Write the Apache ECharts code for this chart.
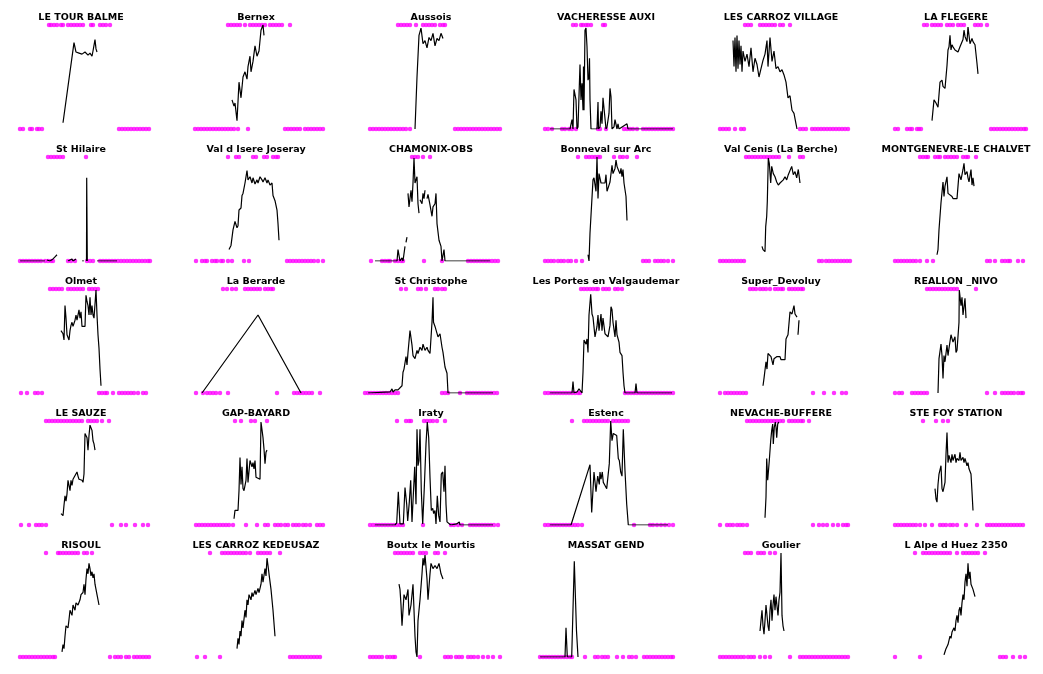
<!DOCTYPE html>
<html>
<head>
<meta charset="utf-8">
<script src="https://cdn.jsdelivr.net/npm/echarts@6/dist/echarts.min.js"></script>
<style>
  html, body { margin: 0; background: #fff; }
  #chart { width: 1043px; height: 674px; }
</style>
</head>
<body>
<div id="chart"></div>
<script>
// station names, in reading order (6 per row)
const names = [
  "LE TOUR BALME", "Bernex", "Aussois", "VACHERESSE AUXI", "LES CARROZ VILLAGE", "LA FLEGERE",
  "St Hilaire", "Val d Isere Joseray", "CHAMONIX-OBS", "Bonneval sur Arc", "Val Cenis (La Berche)", "MONTGENEVRE-LE CHALVET",
  "Olmet", "La Berarde", "St Christophe", "Les Portes en Valgaudemar", "Super_Devoluy", "REALLON _NIVO",
  "LE SAUZE", "GAP-BAYARD", "Iraty", "Estenc", "NEVACHE-BUFFERE", "STE FOY STATION",
  "RISOUL", "LES CARROZ KEDEUSAZ", "Boutx le Mourtis", "MASSAT GEND", "Goulier", "L Alpe d Huez 2350"
];

// days flagged at the top of each panel
const topDays = [
  [31,33,36,39,43,45,50,53,56,59,62,65,73,75,82,85,88,92],
  [35,38,41,44,47,52,57,60,63,66,69,72,77,80,83,86,89,97],
  [30,33,36,39,42,48,55,58,61,64,67,72,75,77],
  [30,33,38,40,43,45,48,60,62],
  [27,30,33,42,45,48,51,54,57,62,65,72],
  [31,34,39,42,45,48,54,57,60,65,68,71,82,85,88,94],
  [30,33,36,39,42,45,68],
  [35,43,46,60,63,71,74,80,83,85],
  [44,47,50,55,62],
  [35,43,46,49,52,55,57,71,77,80,84,94],
  [28,31,34,37,40,43,46,49,52,55,58,61,71,82,85],
  [27,30,33,35,42,45,47,52,55,58,61,64,70,73,75,83],
  [32,35,38,41,44,50,53,56,59,62,65,71,74,77,80],
  [30,34,39,43,52,55,58,61,64,67,72,75,78,80],
  [33,38,50,53,58,67,70,74,77],
  [38,41,44,47,50,53,55,60,63,66,72,75,79],
  [32,35,38,42,45,48,52,57,60,63,65,71,74,77,80,83,85],
  [34,37,40,43,46,49,52,55,58,61,64,83],
  [28,31,34,37,40,43,46,49,52,55,58,61,64,70,73,76,79,84,91],
  [42,48,58,62,74],
  [29,38,41,43,56,59,62,65,69,77],
  [29,41,44,47,50,53,56,59,62,65,70,73,76,79,82,85],
  [29,32,35,38,41,44,47,50,53,56,59,62,65,71,74,77,80,83,85,91],
  [30,43,50,55],
  [28,40,42,45,48,51,54,57,60,66,69,74],
  [17,29,32,35,38,41,44,47,50,53,57,65,68,71,74,77,87],
  [27,30,33,36,39,42,45,52,55,58,67,70,77],
  [],
  [27,30,33,40,43,46,52,57],
  [22,30,33,36,39,42,45,48,51,54,57,64,70,73,76,79,82,85,92]
];

// days flagged at the bottom of each panel
const bottomDays = [
  [2,5,12,14,19,21,24,101,104,107,110,113,116,119,122,125,128,131],
  [2,5,8,11,14,17,20,23,26,29,32,35,38,41,45,55,92,95,98,101,104,107,112,115,118,121,124,127,130],
  [2,5,8,11,14,17,20,23,26,29,32,35,38,42,87,90,93,96,99,102,105,108,111,114,117,120,123,126,129,132],
  [2,5,9,19,22,26,29,33,55,57,63,81,84,87,90,94,100,103,106,109,112,115,118,121,124,127,130],
  [2,5,8,11,17,23,26,82,85,88,94,97,100,103,106,109,112,115,118,121,124,127,130],
  [2,5,14,17,19,24,26,28,98,101,104,107,110,113,116,119,122,125,128,131,133],
  [2,5,8,11,14,17,20,23,27,30,33,35,50,53,57,69,72,75,82,85,88,91,94,97,100,103,106,109,112,115,118,121,124,127,130,132],
  [3,9,12,14,19,22,24,28,30,35,39,51,56,94,97,100,103,106,109,112,115,118,121,125,130],
  [3,14,17,20,22,27,30,33,35,56,74,100,103,106,109,112,115,118,121,124,127,130],
  [2,5,8,11,15,18,21,25,28,33,39,100,103,106,112,115,118,121,125,130],
  [2,5,8,11,14,17,20,23,26,101,104,108,111,114,117,120,123,126,129,132],
  [2,5,8,11,14,17,20,23,27,34,40,94,97,102,109,112,115,117,125,130],
  [3,9,17,20,24,81,84,87,89,95,101,104,107,110,113,116,120,125,128],
  [3,10,14,17,20,23,27,35,84,101,104,107,110,113,116,119,127],
  [-3,0,3,6,9,12,15,18,21,24,27,30,74,77,80,92,99,102,105,108,111,114,117,120,123,126,129],
  [2,5,8,11,14,17,20,23,26,29,32,35,37,82,85,88,91,94,97,100,103,106,109,112,115,118,121,124,127,130],
  [2,7,10,13,16,19,22,25,28,95,106,116,124,128],
  [2,6,9,19,22,25,28,31,34,94,102,109,112,115,118,121,125,128,130],
  [3,11,18,21,24,28,94,103,108,117,125,130],
  [3,6,9,12,15,18,21,24,27,30,33,36,40,53,64,72,75,82,85,88,92,95,100,103,106,110,113,117,124,127,130],
  [2,5,8,11,14,17,20,23,26,29,32,35,55,83,86,90,94,102,105,108,111,114,117,120,123,126,130],
  [2,5,8,11,14,17,20,23,26,29,32,35,39,91,107,110,114,118,122,126,130],
  [2,9,12,15,19,22,25,29,95,101,105,109,115,120,125,128,130],
  [2,5,8,11,14,17,20,23,27,32,39,47,50,53,57,60,64,73,84,94,97,100,103,106,109,112,115,118,121,124,127,130],
  [2,5,8,11,14,17,20,23,26,29,32,35,37,92,97,100,103,108,111,116,119,122,125,128,131],
  [4,12,27,97,100,103,106,109,112,115,118,121,124,127],
  [2,5,8,11,14,19,22,25,27,52,77,80,83,88,91,94,100,103,106,110,115,120,125,132],
  [-3,0,3,6,9,12,15,18,21,24,27,29,42,52,55,59,62,65,74,80,86,89,93,101,104,107,110,113,116,119,122,125,128,130],
  [2,5,8,11,14,17,20,23,26,30,33,36,42,47,52,72,82,85,88,91,94,97,100,103,106,109,112,115,118,121,124,127,130],
  [2,27,107,110,113,120,127,132]
];

// snow depth readings [day, depth]; null marks a gap in the record
const depth = [
  [[45,6],[56,83],[58,74],[61,73],[64,72],[67,74],[70,71],[72,73],[74,70],[75,75],[76,76],[77,86],[78,77],[79,74]],
  [[39,28],[41,22],[42,25],[44,8],[46,45],[48,30],[50,50],[52,55],[54,48],[55,60],[57,70],[58,55],[60,65],[62,80],[64,70],[66,75],[68,95],[70,100],[71,90]],
  [[47,0],[49,50],[51,90],[53,97],[55,82],[57,85],[59,78],[61,88],[63,85],[65,92],[67,80],[69,87],[71,85],[73,92],[75,87]],
  [[7,0],[27,0],[29,9],[30,0],[31,38],[33,28],[34,0],[35,2],[37,62],[38,28],[39,44],[40,18],[40.5,60],[41,18],[42,95],[43,97],[44,79],[45,47],[46,50],[46.5,68],[47,28],[48,0],[54,0],[55,26],[55.5,0],[57,2],[58,17],[59,5],[60,30],[62,31],[63,0],[64,2],[66,15],[67,39],[68,31],[69,0],[71,2],[72,9],[74,0],[75,5],[76,0],[84,5],[85,0],[130,0]],
  [[15,85],[16,60],[17,88],[18,55],[19,90],[20,58],[21,85],[22,62],[23,80],[24,55],[25,75],[27,65],[29,72],[31,60],[33,78],[35,55],[37,68],[39,62],[41,50],[43,58],[45,66],[47,72],[49,85],[50,60],[52,88],[54,65],[56,75],[58,58],[60,60],[62,55],[64,57],[66,52],[68,45],[70,30],[72,32],[74,18],[76,15],[78,5],[79,0]],
  [[39,8],[41,28],[43,25],[45,21],[47,45],[49,47],[50,41],[52,39],[54,61],[55,76],[56,79],[57,90],[58,76],[59,81],[60,79],[62,76],[64,77],[65,74],[67,79],[70,86],[71,95],[72,89],[74,84],[75,98],[77,82],[79,87],[80,84],[82,81],[84,63],[85,53]],
  [[2,0],[27,0],null,[29,1],[32,0],[35,2],[37,4],[39,6],null,[50,0],[54,2],[55,0],[58,2],null,[64,0],[66,0],null,[68.5,0],[68.7,80],[69.3,0],null,[79,0],[99,0]],
  [[36,11],[38,15],[39,14],[40,30],[42,38],[44,32],[45,34],[46,49],[48,51],[49,63],[50,65],[52,75],[54,87],[55,78],[57,81],[59,75],[60,80],[62,74],[64,78],[65,75],[67,81],[69,78],[70,76],[72,80],[74,75],[75,78],[77,73],[79,75],[80,63],[82,58],[84,49],[85,36],[86,20]],
  [[7,0],[29,0],[30,11],[32,0],[34,3],[35,0],[37,14],null,[38,18],[39,23],null,[40,65],[41,52],[43,68],[44,57],[45,75],[46,99],[47,75],[49,81],[50,55],[51,46],null,[52,59],[54,55],[55,65],[56,60],[57,68],null,[59,60],[60,64],[62,54],[64,43],[65,52],[67,55],[68,65],[69,36],[71,20],[73,14],[74,0],[75,0],[76,11],[77,0],[122,0]],
  [[45,6],[46,0],[47,27],[49,28],[50,78],[51,80],[52,81],[53,67],[54,100],[55,60],[56,84],[58,75],[59,75],[60,76],[62,75],[63,83],[64,67],[66,73],[67,76],[69,92],[70,84],[72,89],[73,97],[74,91],[76,86],[77,84],[78,89],[79,81],[80,88],[81,75],[83,62],[84,39]],
  [[44,14],[45,11],[47,9],[47.7,33],[48.7,43],[49.3,57],[50.3,99],[51.3,94],[52.7,75],[53.7,91],[55.3,84],[57,81],[58.7,76],[60.3,73],[62,75],[63.7,76],[65.3,78],[67,81],[68.7,78],[70.3,83],[72,84],[73.7,91],[75.3,83],[77,86],[78.7,80],[80.3,88],[82,75]],
  [[44,6],[45,11],[46,30],[48,56],[50,76],[51,62],[52,72],[54,81],[55,65],[57,64],[59,62],[60,60],[62,60],[64,60],[66,84],[68,78],[70,88],[71,94],[72,83],[74,86],[75,80],[76,76],[78,88],[79,73],[80,80],[81,72]],
  [[43,60],[45,57],[46,51],[47,84],[48,72],[49,56],[51,51],[52,60],[53,65],[54,68],[55,64],[57,70],[58,75],[59,70],[61,80],[62,72],[63,78],[64,64],[67,64],[68,94],[69,88],[70,84],[71,75],[72,92],[73,75],[74,84],[75,75],[76,72],[78,99],[79,75],[80,56],[81,43],[82,23],[83,7]],
  [[9,0],[65,75],[108,0]],
  [[0,0],[22,1],[24,4],[25,1],[27,3],[30,3],[32,4],[34,7],[35,20],[36,23],[38,35],[39,27],[40,39],[42,60],[44,46],[45,36],[47,33],[49,41],[50,38],[52,44],[54,41],[55,47],[57,41],[59,44],[60,41],[62,38],[64,68],[65,92],[65.5,68],[67,64],[69,65],[70,54],[72,57],[74,44],[75,39],[77,25],[79,19],[80,0],[125,0]],
  [[7,0],[29,0],[30,11],[31,0],[34,1],[36,4],[39,0],[40,20],[41,51],[43,47],[44,52],[45,39],[46,75],[47.7,95],[49,76],[50,73],[52,54],[54,64],[55,75],[56,60],[57,68],[58,76],[59,60],[60,72],[62,57],[64,56],[65,54],[67,65],[68,83],[69,80],[70,68],[72,54],[73,70],[74,56],[76,49],[77,39],[79,36],[80,20],[81,7],[82,0],[92,0],[93,9],[94,0],[129,0]],
  [[45,7],[46,14],[48,30],[49,23],[50,38],[51,39],[53,35],[54,36],[55,27],[56,33],[58,32],[59,35],[61,36],[62,35],[63,32],[67,32],[68,52],[69,54],[70,56],[72,78],[74,76],[75,75],[76,84],[77,76],[79,73],null,[80,56],[81,70]],
  [[45,0],[46,33],[48,47],[49,36],[50,14],[51,36],[52,30],[54,46],[55,36],[56,43],[58,56],[59,57],[60,49],[62,54],[63,39],[64,41],[66,68],[66.3,99],[68,84],[69,92],[70,75],[72,91],[73,72]],
  [[43,11],[45,9],[46,19],[47,28],[48,23],[49,30],[50,43],[52,33],[53,43],[54,38],[55,44],[57,43],[59,51],[60,47],[61,44],[64,43],[65,41],[66,49],[67,88],[69,84],[70,72],[71,86],[72,96],[74,91],[75,81],[76,78],[77,72]],
  [[41,6],[42,14],[44,13],[45,14],[46,33],[47,65],[48,39],[49,56],[50,35],[51,33],[53,43],[54,64],[55,41],[57,62],[59,56],[60,60],[61,54],[62,62],[63,46],[67,44],[68,99],[70,84],[71,73],[72,59],[73,70],[74,72]],
  [[7,0],[27,0],[28.7,2],[30.3,32],[32,1],[35.3,1],[37,36],[38.7,20],[39.7,4],[41.3,22],[42.7,43],[44,3],[45.3,4],[46.7,56],[48,20],[49,92],[50,57],[51,62],[52,92],[53.3,33],[54.7,1],[56.3,36],[58,78],[59.3,99],[60.7,84],[62,46],[63.3,14],[64.7,16],[65.7,11],[67,14],[68,1],[69.3,28],[70.7,9],[72,3],[73.3,49],[74.7,51],[76,32],[77,57],[78,20],[79,3],[80.7,4],[82.7,0],[88.7,1],[91.3,3],[92,0],[125,0]],
  [[7,0],[28,0],[47,58],[48.7,12],[51,51],[53,32],[54.7,47],[56.3,39],[57,51],[58,44],[59.3,51],[60.3,41],[62,38],[63.7,35],[65.3,35],[66.3,59],[67.7,100],[69,81],[70.3,88],[72,87],[73.7,86],[75.3,64],[76.3,62],[77.7,51],[79,47],[80.3,92],[82,52],[83.7,20],[85.3,0],[125,0]],
  [[47,7],[48,27],[48.7,64],[49.7,43],[51.3,62],[52.7,81],[53.7,91],[54.7,97],[55.3,78],[56.3,94],[57.3,99],[58,94],[58.7,84],[59.7,97],[60.7,99]],
  [[42,35],[43,25],[44,22],[45,39],[46,49],[48,57],[49,35],[50,32],[52,41],[53,68],[54,89],[55,60],[56,67],[58,60],[59,68],[60,62],[62,68],[63,60],[64,64],[66,62],[67,70],[68,62],[70,65],[71,60],[72,64],[74,57],[75,60],[76,54],[78,49],[79,32],[80,14]],
  [[44,5],[45,12],[46,8],[47,20],[48,30],[50,28],[51,36],[52,45],[54,40],[55,50],[57,45],[58,52],[60,50],[62,55],[63,60],[65,62],[66,70],[67,60],[68,75],[69,85],[70,80],[71,90],[72,85],[73,78],[74,82],[75,76],[76,80],[77,70],[79,60],[81,50]],
  [[44,8],[45,18],[46,12],[47,25],[48,20],[49,35],[50,28],[52,45],[53,38],[54,55],[55,50],[56,60],[58,55],[59,62],[60,58],[62,64],[63,60],[65,66],[66,62],[68,70],[69,80],[70,72],[72,85],[73,78],[74,95],[75,88],[76,80],[78,65],[80,45],[82,20]],
  [[31,70],[32,65],[33,50],[34,30],[35,45],[36,60],[38,55],[40,65],[41,40],[43,50],[45,70],[46,45],[47,20],[48,5],[49,0],[50,35],[52,55],[54,80],[55,95],[56,88],[57,98],[59,75],[60,55],[62,80],[63,90],[65,85],[67,88],[69,85],[71,90],[73,80],[75,75]],
  [[-3,0],[22,0],[23,28],[24.3,0],[28.7,0],[31.3,92],[33.5,25],[35,0]],
  [[42,25],[43,35],[44,45],[45,30],[46,22],[47,35],[48,50],[49,40],[50,30],[51,25],[52,45],[53,55],[54,35],[55,50],[56,60],[57,45],[58,58],[60,40],[61,55],[62,62],[63,100],[64,40],[65,30],[66,25]],
  [[51,2],[52,5],[53,8],[55,12],[56,16],[57,20],[58,18],[59,24],[61,28],[62,25],[63,35],[64,40],[65,33],[66,45],[67,48],[68,40],[69,52],[70,60],[71,55],[72,72],[73,80],[74,68],[75,90],[76,75],[77,82],[78,70],[80,65],[82,58]]
];

const chart = echarts.init(document.getElementById("chart"));
const grid = [], xAxis = [], yAxis = [], series = [], graphic = [];

names.forEach((name, i) => {
  const row = Math.floor(i / 6), col = i % 6;
  grid.push({ left: 13 + 175 * col, top: 25 + 132 * row, width: 140, height: 104 });
  xAxis.push({ gridIndex: i, type: "value", min: -5, max: 135, show: false });
  yAxis.push({ gridIndex: i, type: "value", min: 0, max: 100, show: false });
  graphic.push({
    type: "text",
    x: 81 + 175 * col,
    y: 17.5 + 132 * row,
    style: {
      text: name,
      align: "center",
      verticalAlign: "middle",
      fontFamily: "DejaVu Sans",
      fontWeight: "bold",
      fontSize: 9.5,
      fill: "#000"
    }
  });

  const dot = { type: "scatter", xAxisIndex: i, yAxisIndex: i, symbolSize: 4.5, silent: true,
    itemStyle: { color: "#ff00ff" } };
  series.push(Object.assign({}, dot, { data: topDays[i].map(d => [d, 100]) }));
  series.push(Object.assign({}, dot, { data: bottomDays[i].map(d => [d, 0]) }));

  // split the record on gaps
  let seg = [];
  const segs = [];
  depth[i].forEach(p => {
    if (p === null) { if (seg.length) segs.push(seg); seg = []; }
    else seg.push(p);
  });
  if (seg.length) segs.push(seg);
  segs.forEach(s => {
    series.push({
      type: "line", xAxisIndex: i, yAxisIndex: i, data: s,
      showSymbol: false, silent: true,
      lineStyle: { color: "#000", width: 1.2 }
    });
  });
});

chart.setOption({
  animation: false,
  grid: grid,
  xAxis: xAxis,
  yAxis: yAxis,
  graphic: graphic,
  series: series
});
</script>
</body>
</html>
